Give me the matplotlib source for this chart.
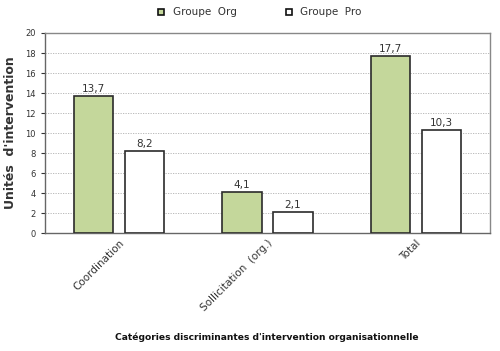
import matplotlib
matplotlib.use('Agg')
import matplotlib.pyplot as plt
import numpy as np
from matplotlib.lines import Line2D

categories = ['Coordination', 'Sollicitation  (org.)', 'Total']
series_names = ['Groupe  Org', 'Groupe  Pro']
org_vals = [13.7, 4.1, 17.7]
pro_vals = [8.2, 2.1, 10.3]

C_GREEN, C_EDGE, C_TXT = '#c4d79b', '#2b2b2b', '#333333'

plt.rcParams['font.family'] = ['DejaVu Sans']

fig = plt.figure(figsize=(5.0, 3.51), dpi=100)
ax = fig.add_axes([0.09, 0.336, 0.89, 0.57])

x = np.arange(len(categories))
w = 0.265
off = 0.172
b1 = ax.bar(x - off, org_vals, w, color=C_GREEN, edgecolor=C_EDGE, lw=1.2, zorder=3)
b2 = ax.bar(x + off, pro_vals, w, color='white', edgecolor=C_EDGE, lw=1.2, zorder=3)
for bars, vals in ((b1, org_vals), (b2, pro_vals)):
    for b, v in zip(bars, vals):
        ax.text(b.get_x() + b.get_width() / 2, v + 0.25, f'{v:.1f}'.replace('.', ','),
                ha='center', va='bottom', fontsize=7.5, color=C_TXT)

ax.set_xlim(-0.5, len(categories) - 0.5)
ax.set_ylim(0, 20)
ax.set_yticks(np.arange(0, 21, 2))
ax.tick_params(axis='y', labelsize=6, colors=C_TXT, length=3, width=0.8)
ax.tick_params(axis='x', length=0)
ax.set_xticks(x)
ax.set_xticklabels(categories, rotation=45, ha='right', rotation_mode='anchor',
                   fontsize=7.5, color=C_TXT)
ax.grid(axis='y', ls=(0, (1.5, 1.5)), color='#b0b0b0', lw=0.6, zorder=0)
for s in ax.spines.values():
    s.set_color('#888888')
    s.set_linewidth(1.0)
ax.spines['bottom'].set_color('#666666')
ax.spines['left'].set_color('#666666')

ax.set_ylabel("Unités  d'intervention", fontsize=9, fontweight='bold', color=C_TXT, labelpad=6)
fig.text(0.534, 0.04, "Catégories discriminantes d'intervention organisationnelle",
         ha='center', va='center', fontsize=6.6, fontweight='bold', color='#111111')

handles = [Line2D([], [], marker='s', ls='none', markersize=5, markerfacecolor=C_GREEN,
                  markeredgecolor='#111111', markeredgewidth=1.2),
           Line2D([], [], marker='s', ls='none', markersize=5, markerfacecolor='white',
                  markeredgecolor='#111111', markeredgewidth=1.2)]
fig.legend(handles, series_names, loc='center', bbox_to_anchor=(0.518, 0.965), ncol=2,
           frameon=False, fontsize=7.5, handletextpad=0.6, columnspacing=4.5,
           handlelength=1.0, labelcolor=C_TXT)

fig.savefig('out.png', dpi=100)
